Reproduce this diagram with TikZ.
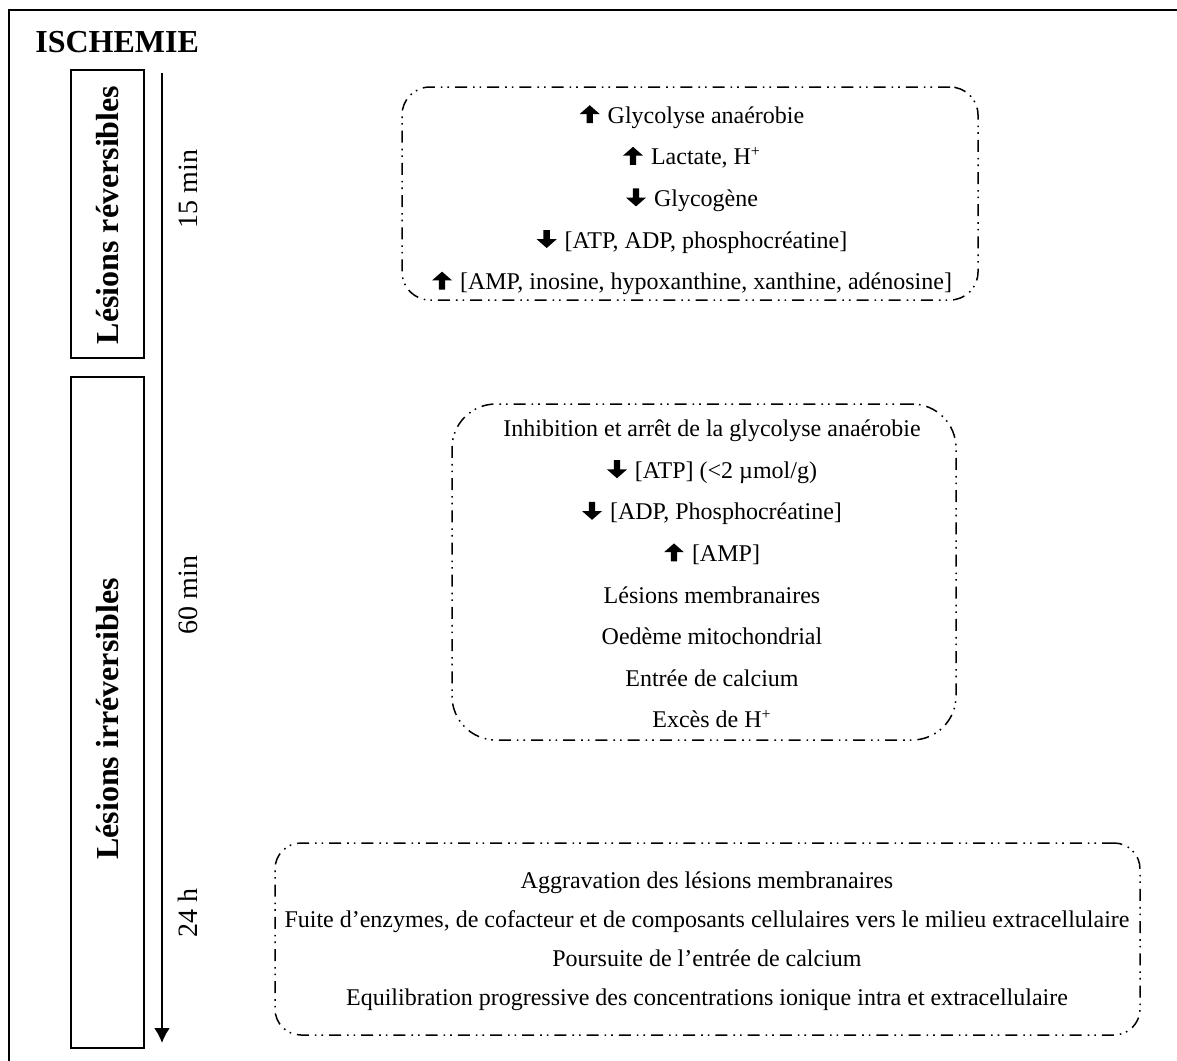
\documentclass[tikz,border=0pt]{standalone}
\usepackage{fontspec}
\setmainfont{Liberation Serif}
\usetikzlibrary{arrows.meta}
\newcommand\myup{\tikz[x=1pt,y=1pt,baseline=0pt]\fill (-1.6,0) -- (-1.6,4.6) -- (-5,4.6) -- (0,9) -- (5,4.6) -- (1.6,4.6) -- (1.6,0) -- cycle;}
\newcommand\mydown{\tikz[x=1pt,y=1pt,baseline=0pt]\fill (-1.6,9) -- (-1.6,4.4) -- (-5,4.4) -- (0,0) -- (5,4.4) -- (1.6,4.4) -- (1.6,9) -- cycle;}
\tikzset{
  dashbox/.style={draw, line width=0.75pt, dash pattern=on 6pt off 3pt on 0.8pt off 2.5pt on 0.8pt off 3pt, inner sep=0pt},
  phasebox/.style={draw, line width=1pt, inner sep=0pt, minimum width=36.5pt},
  phaselabel/.style={rotate=90, font=\fontsize{16}{19}\selectfont\bfseries},
  timelabel/.style={rotate=90, font=\fontsize{14}{16}\selectfont},
  boxtext/.style={align=center, font=\fontsize{12}{20.8}\selectfont, inner sep=0pt},
}
\begin{document}
\begin{tikzpicture}[x=0.5pt,y=-0.5pt]
\useasboundingbox (0,0) rectangle (1177,1060);
\draw[line width=1pt] (9,10) rectangle (1190,1075);
\node[anchor=base west, font=\fontsize{16}{19}\selectfont\bfseries, inner sep=0pt] (title) at (35,52) {ISCHEMIE};

\node[phasebox, minimum height=144pt] (rev) at (107.5,214) {};
\node[phaselabel] (revl) at (107.5,215) {Lésions réversibles};
\node[phasebox, minimum height=335.5pt] (irr) at (107.5,712.5) {};
\node[phaselabel] (irrl) at (107.5,719) {Lésions irréversibles};

\coordinate (t0) at (162,73);
\coordinate (t1) at (162,1043);
\draw[line width=1pt, -{Latex[length=7.5pt,width=8pt]}] (t0) -- (t1);
\node[timelabel] (l15) at (188,189) {15 min};
\node[timelabel] (l60) at (188,595) {60 min};
\node[timelabel] (l24) at (188,913) {24 h};

\node[dashbox, rounded corners=14pt, minimum width=288pt, minimum height=106.5pt] (b1) at (690,193.5) {};
\node[boxtext] (t1txt) at (692,200) {\myup\hspace{4pt}Glycolyse anaérobie\\
\myup\hspace{4pt}Lactate, H\textsuperscript{+}\\
\mydown\hspace{4pt}Glycogène\\
\mydown\hspace{4pt}[ATP, ADP, phosphocréatine]\\
\myup\hspace{4pt}[AMP, inosine, hypoxanthine, xanthine, adénosine]};

\node[dashbox, rounded corners=22pt, minimum width=252pt, minimum height=168pt] (b2) at (704,572) {};
\node[boxtext] (t2txt) at (712,574) {Inhibition et arrêt de la glycolyse anaérobie\\
\mydown\hspace{4pt}[ATP] (<2 µmol/g)\\
\mydown\hspace{4pt}[ADP, Phosphocréatine]\\
\myup\hspace{4pt}[AMP]\\
Lésions membranaires\\
Oedème mitochondrial\\
Entrée de calcium\\
Excès de H\textsuperscript{+}};

\node[dashbox, rounded corners=13pt, minimum width=432.5pt, minimum height=96pt] (b3) at (707.5,939) {};
\node[boxtext, font=\fontsize{12}{19.5}\selectfont] (t3txt) at (707,941) {Aggravation des lésions membranaires\\
Fuite d’enzymes, de cofacteur et de composants cellulaires vers le milieu extracellulaire\\
Poursuite de l’entrée de calcium\\
Equilibration progressive des concentrations ionique intra et extracellulaire};
\end{tikzpicture}
\end{document}
